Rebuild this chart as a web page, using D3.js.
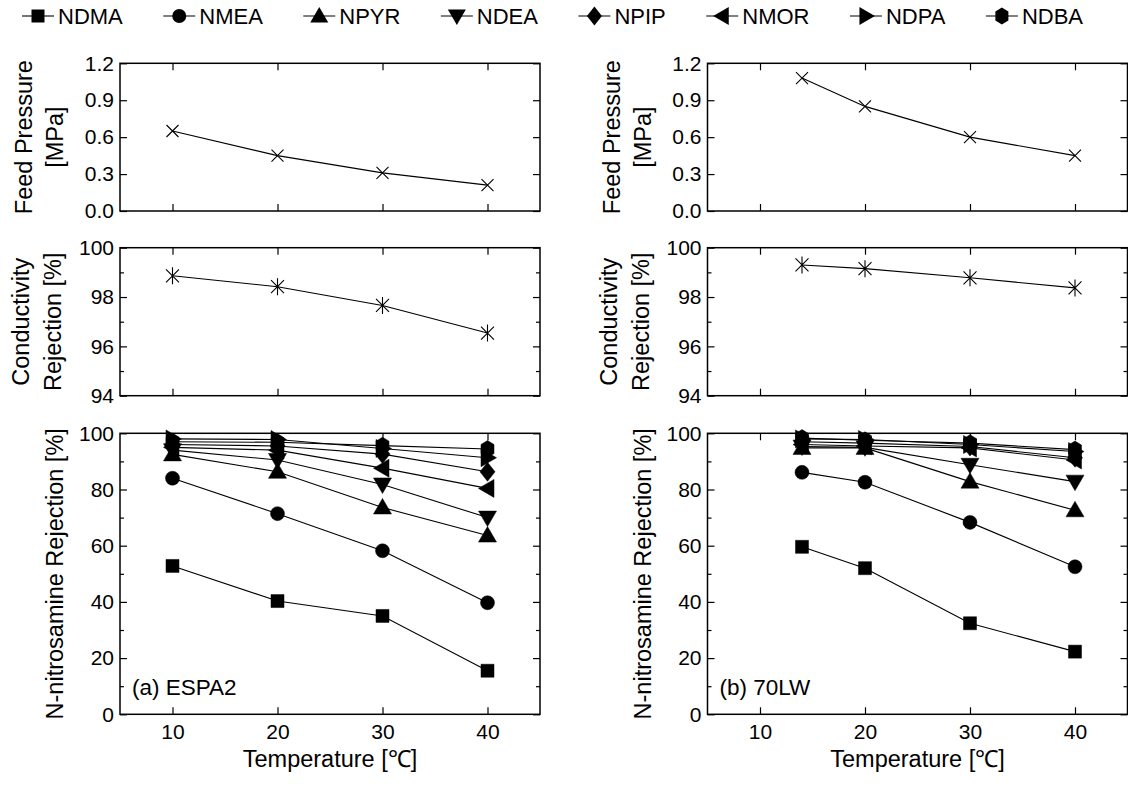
<!DOCTYPE html>
<html>
<head>
<meta charset="utf-8">
<script src="https://cdn.jsdelivr.net/npm/d3@7"></script>
<style>
  body { margin: 0; background: #fff; }
  svg { display: block; }
  text { font-family: 'Liberation Sans', Arial, Helvetica, sans-serif; fill: #000; }
  .axis line { stroke: #000; stroke-width: 1.2; }
  .axis path { display: none; }
  .frame { fill: none; stroke: #000; stroke-width: 1.5; }
  .series { fill: none; stroke: #000; stroke-width: 1.1; }
</style>
</head>
<body>
<div id="chart"></div>
<script>

// data
var temps_a = [10, 20, 30, 40];
var temps_b = [14, 20, 30, 40];
var compounds = ["NDMA", "NMEA", "NPYR", "NDEA", "NPIP", "NMOR", "NDPA", "NDBA"];
var shapes = ["square", "circle", "up", "down", "diamond", "left", "right", "hexagon"];

var pressure_a = [0.65, 0.45, 0.31, 0.21];
var pressure_b = [1.08, 0.85, 0.60, 0.45];
var conductivity_a = [98.86, 98.42, 97.66, 96.54];
var conductivity_b = [99.30, 99.15, 98.78, 98.37];

// N-nitrosamine rejection, one row per compound (same order as compounds)
var rejection_a = [
  [52.8, 40.3, 35.0, 15.5],
  [84.0, 71.4, 58.2, 39.7],
  [92.5, 86.3, 73.6, 63.6],
  [94.0, 90.5, 81.8, 70.0],
  [96.0, 95.5, 92.6, 86.3],
  [95.0, 94.0, 87.6, 80.4],
  [98.0, 97.8, 94.6, 91.3],
  [97.0, 96.8, 95.6, 94.4]
];
var rejection_b = [
  [59.6, 52.0, 32.4, 22.3],
  [86.1, 82.6, 68.3, 52.5],
  [94.8, 94.8, 82.8, 72.6],
  [95.3, 95.0, 88.8, 82.8],
  [97.0, 96.5, 95.3, 91.3],
  [96.0, 95.5, 94.8, 90.5],
  [98.0, 97.8, 96.0, 93.5],
  [98.3, 97.5, 96.5, 94.2]
];

// tick values
var tempTicks = [10, 20, 30, 40];
var pressureTicks = [0, 0.3, 0.6, 0.9, 1.2];
var conductivityTicks = [94, 96, 98, 100],
    conductivityMinor = [95, 97, 99];
var rejectionTicks = [0, 20, 40, 60, 80, 100],
    rejectionMinor = [10, 30, 50, 70, 90];

// setup dimensions
var width = 1128,
    height = 785;

var svg = d3.select("#chart").append("svg")
  .attr("width", width)
  .attr("height", height);

// column / row placement
var cols = [[120, 540], [707.5, 1127.5]];
var rows = [[211, 63.3], [395.7, 247.7], [714.3, 433.3]];

// marker paths
function markerPath(type) {
  switch (type) {
    case "square":  return "M-6.5,-6.5H6.5V6.5H-6.5Z";
    case "circle":  return "M7,0A7,7 0 1,1 -7,0A7,7 0 1,1 7,0Z";
    case "up":      return "M0,-9L9,6.5L-9,6.5Z";
    case "down":    return "M0,9L9,-6.5L-9,-6.5Z";
    case "left":    return "M-9,0L6.5,-9L6.5,9Z";
    case "right":   return "M9,0L-6.5,-9L-6.5,9Z";
    case "diamond": return "M0,-9.5L7.5,0L0,9.5L-7.5,0Z";
    case "hexagon": return "M0,-8.5L6.5,-4.5L6.5,4.5L0,8.5L-6.5,4.5L-6.5,-4.5Z";
    case "cross":   return "M-6,-6L6,6M-6,6L6,-6";
    case "star":    return "M-6.5,-6.5L6.5,6.5M-6.5,6.5L6.5,-6.5M0,-8.5L0,8.5";
  }
}

// Create one panel
function panel(col, row, yDomain, ticks, minor, showX) {
  var x = d3.scaleLinear().domain([5, 45]).range(cols[col]);
  var y = d3.scaleLinear().domain(yDomain).range(rows[row]);
  var g = svg.append("g");

  var x0 = cols[col][0], x1 = cols[col][1],
      yb = rows[row][0], yt = rows[row][1];

  // y axes, ticks pointing inward
  g.append("g").attr("class", "axis")
    .attr("transform", "translate(" + x0 + ",0)")
    .call(d3.axisLeft(y).tickValues(ticks).tickSize(-7).tickPadding(6)
      .tickFormat(yDomain[1] < 2 ? d3.format(".1f") : d3.format("d")))
    .selectAll("text").style("font-size", "21px");
  g.append("g").attr("class", "axis")
    .attr("transform", "translate(" + x1 + ",0)")
    .call(d3.axisRight(y).tickValues(ticks).tickSize(-7).tickFormat(""));
  if (minor) {
    g.append("g").attr("class", "axis")
      .attr("transform", "translate(" + x0 + ",0)")
      .call(d3.axisLeft(y).tickValues(minor).tickSize(-4).tickFormat(""));
    g.append("g").attr("class", "axis")
      .attr("transform", "translate(" + x1 + ",0)")
      .call(d3.axisRight(y).tickValues(minor).tickSize(-4).tickFormat(""));
  }

  // x axes
  var xb = g.append("g").attr("class", "axis")
    .attr("transform", "translate(0," + yb + ")")
    .call(d3.axisBottom(x).tickValues(tempTicks).tickSize(-7).tickPadding(10)
      .tickFormat(showX ? d3.format("d") : ""));
  xb.selectAll("text").style("font-size", "21px");
  g.append("g").attr("class", "axis")
    .attr("transform", "translate(0," + yt + ")")
    .call(d3.axisTop(x).tickValues(tempTicks).tickSize(-7).tickFormat(""));

  // bounding box
  g.append("rect").attr("class", "frame")
    .attr("x", x0).attr("y", yt)
    .attr("width", x1 - x0).attr("height", yb - yt);

  return {g: g, x: x, y: y};
}

function addSeries(p, xs, values, shape, filled) {
  var pts = xs.map(function(d, i) { return [d, values[i]]; });
  var line = d3.line()
    .x(function(d) { return p.x(d[0]); })
    .y(function(d) { return p.y(d[1]); });
  p.g.append("path").attr("class", "series").attr("d", line(pts));
  p.g.selectAll(null).data(pts).enter().append("path")
    .attr("transform", function(d) { return "translate(" + p.x(d[0]) + "," + p.y(d[1]) + ")"; })
    .attr("d", markerPath(shape))
    .attr("fill", filled ? "#000" : "none")
    .attr("stroke", "#000")
    .attr("stroke-width", filled ? 0.5 : 1.1);
}

// y axis titles (rotated)
function yTitle(col, row, lines, offsets) {
  var cy = (rows[row][0] + rows[row][1]) / 2;
  lines.forEach(function(t, i) {
    svg.append("text")
      .attr("transform", "translate(" + (cols[col][0] - offsets[i]) + "," + cy + ") rotate(-90)")
      .attr("text-anchor", "middle")
      .style("font-size", "23.5px")
      .text(t);
  });
}

var columns = [
  {temps: temps_a, pressure: pressure_a, cond: conductivity_a, rej: rejection_a, label: "(a) ESPA2"},
  {temps: temps_b, pressure: pressure_b, cond: conductivity_b, rej: rejection_b, label: "(b) 70LW"}
];

columns.forEach(function(c, ci) {
  var p1 = panel(ci, 0, [0, 1.2], pressureTicks, null, false);
  addSeries(p1, c.temps, c.pressure, "cross", false);
  yTitle(ci, 0, ["Feed Pressure", "[MPa]"], [88, 57]);

  var p2 = panel(ci, 1, [94, 100], conductivityTicks, conductivityMinor, false);
  addSeries(p2, c.temps, c.cond, "star", false);
  yTitle(ci, 1, ["Conductivity", "Rejection [%]"], [91, 59]);

  var p3 = panel(ci, 2, [0, 100], rejectionTicks, rejectionMinor, true);
  c.rej.forEach(function(vals, k) {
    addSeries(p3, c.temps, vals, shapes[k], true);
  });
  yTitle(ci, 2, ["N-nitrosamine Rejection [%]"], [57]);

  // panel label
  p3.g.append("text")
    .attr("x", cols[ci][0] + 12)
    .attr("y", 695)
    .style("font-size", "22.5px")
    .text(c.label);

  // x axis title
  svg.append("text")
    .attr("x", (cols[ci][0] + cols[ci][1]) / 2)
    .attr("y", 767)
    .attr("text-anchor", "middle")
    .style("font-size", "23.5px")
    .text("Temperature [\u2103]");
});

// legend
var legend = svg.append("g").attr("class", "legend");
var items = legend.selectAll("g").data(compounds).enter().append("g");
items.append("line")
  .attr("x1", 0).attr("x2", 32).attr("y1", 0).attr("y2", 0)
  .attr("stroke", "#000").attr("stroke-width", 1.1);
items.append("path")
  .attr("transform", "translate(16,0)")
  .attr("d", function(d, i) { return markerPath(shapes[i]); })
  .attr("fill", "#000");
items.append("text")
  .attr("x", 36).attr("y", 8)
  .style("font-size", "22px")
  .text(function(d) { return d; });

// spread legend items between x=22 and x=1083
var widths = [];
items.each(function() { widths.push(36 + d3.select(this).select("text").node().getComputedTextLength()); });
var gap = (1083 - 22 - d3.sum(widths)) / (compounds.length - 1);
var pos = 22;
items.attr("transform", function(d, i) {
  var t = "translate(" + pos + ",16)";
  pos += widths[i] + gap;
  return t;
});

</script>
</body>
</html>
